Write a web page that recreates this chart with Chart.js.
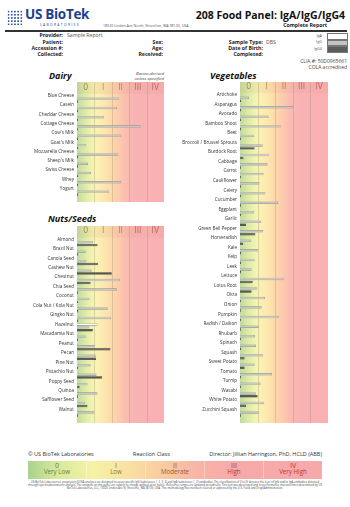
<!DOCTYPE html>
<html>
<head>
<meta charset="utf-8">
<script src="https://cdn.jsdelivr.net/npm/chart.js@4/dist/chart.umd.min.js"></script>
<style>
body { margin: 0; width: 350px; height: 507px; position: relative; overflow: hidden; background: #fff; font-family: "Open Sans", Arial, sans-serif; color: #222; }
.t { position: absolute; white-space: nowrap; line-height: 1; }
.b { font-weight: bold; }
canvas { position: absolute; }
.sec { font-weight: bold; font-style: italic; font-size: 9px; color: #111; }
.lbl { font-size: 5.2px; font-weight: bold; text-align: right; }
.val { font-size: 5.2px; color: #555; }
.box { position: absolute; left: 327px; width: 19px; height: 4.5px; border: 0.6px solid #777; }
#band { position: absolute; left: 28px; top: 460.5px; width: 294px; height: 18px; display: flex;
  background: linear-gradient(90deg, #a9d28d 0%, #d9e99c 10%, #f6f2a6 22%, #f9e0a2 34%, #f9cba0 46%, #f8b4a6 58%, #f7a9a9 70%, #f8a8aa 100%); }
#band div { flex: 1; text-align: center; font-size: 6.2px; line-height: 6.6px; padding-top: 2.4px; border-left: 0.6px solid rgba(255,255,255,0.35); }
#band div:first-child { border-left: none; }
</style>
</head>
<body>

<!-- header -->
<div class="t" style="left:7px;top:10px;width:16px;height:15px;background:radial-gradient(circle,#2b55a8 0.9px,transparent 1.25px);background-size:3.2px 3.2px;"></div>
<div class="t b" style="left:25px;top:8px;font-size:13.5px;color:#1d3f8f;letter-spacing:-0.3px;">US BioTek</div>
<div class="t" style="left:40px;top:22.5px;font-size:3.4px;color:#1d3f8f;letter-spacing:1.3px;">LABORATORIES</div>
<div class="t" style="left:103px;top:23.5px;font-size:3.6px;color:#555;">18020 Linden Ave North, Shoreline, WA 98133, USA</div>
<div class="t b" style="right:5px;top:10px;font-size:10.5px;color:#111;">208 Food Panel: IgA/IgG/IgG4</div>
<div class="t b" style="right:23px;top:22.5px;font-size:5.2px;">Complete Report</div>
<div class="t" style="left:5px;top:30.3px;width:342px;height:1.4px;background:#333;"></div>

<div class="t lbl" style="right:287px;top:33px;">Provider:</div>
<div class="t val" style="left:67px;top:33px;">Sample Report</div>
<div class="t lbl" style="right:287px;top:39.6px;">Patient:</div>
<div class="t lbl" style="right:287px;top:45.6px;">Accession #:</div>
<div class="t lbl" style="right:287px;top:51.6px;">Collected:</div>
<div class="t lbl" style="right:187px;top:39.6px;">Sex:</div>
<div class="t lbl" style="right:187px;top:45.6px;">Age:</div>
<div class="t lbl" style="right:187px;top:51.6px;">Received:</div>
<div class="t lbl" style="right:87px;top:39.6px;">Sample Type:</div>
<div class="t val" style="left:266px;top:39.6px;">DBS</div>
<div class="t lbl" style="right:87px;top:45.6px;">Date of Birth:</div>
<div class="t lbl" style="right:87px;top:51.6px;">Completed:</div>

<div class="t" style="right:28px;top:33.6px;font-size:3.8px;color:#555;">IgA</div>
<div class="t" style="right:28px;top:40.2px;font-size:3.8px;color:#555;">IgG</div>
<div class="t" style="right:28px;top:46.8px;font-size:3.8px;color:#555;">IgG4</div>
<div class="box" style="top:33px;background:#fff;"></div>
<div class="box" style="top:39.6px;background:#c4c4c4;"></div>
<div class="box" style="top:46.2px;background:#5c5c5c;"></div>

<div class="t" style="right:3px;top:58.6px;font-size:5px;color:#444;">CLIA #: 50D0965661</div>
<div class="t" style="right:3px;top:64.8px;font-size:5px;color:#444;">COLA accredited</div>

<!-- sections -->
<div class="t sec" style="left:49px;top:71px;">Dairy</div>
<div class="t" style="right:186px;top:71px;font-size:4.3px;font-style:italic;color:#444;">Bovine-derived</div>
<div class="t" style="right:186px;top:76px;font-size:4.3px;font-style:italic;color:#444;">unless specified</div>
<div class="t sec" style="left:210px;top:71px;">Vegetables</div>
<div class="t sec" style="left:48px;top:213.5px;">Nuts/Seeds</div>

<canvas id="dairy" width="164" height="120" style="left:0;top:82px;width:164px;height:120px;"></canvas>
<canvas id="nuts" width="164" height="197" style="left:0;top:226px;width:164px;height:197px;"></canvas>
<canvas id="veg" width="148" height="341" style="left:180px;top:82px;width:148px;height:341px;"></canvas>

<!-- footer -->
<div class="t" style="left:28px;top:451.5px;font-size:5.5px;color:#333;">© US BioTek Laboratories</div>
<div class="t" style="left:133px;top:451.5px;font-size:5.5px;color:#333;">Reaction Class</div>
<div class="t" style="right:28px;top:451.5px;font-size:5.5px;color:#333;">Director: Jillian Harrington, PhD, HCLD (ABB)</div>
<div id="band"></div>
<div class="t" style="left:28px;top:480.5px;width:294px;white-space:normal;text-align:center;font-size:2.75px;line-height:3.4px;color:#444;">US BioTek Laboratories' proprietary ELISA analyses are designed to assay specific IgG (subclasses 1, 2, 3, 4) and IgA (subclasses 1, 2) antibodies. The classification of 0 to IV denotes the level of IgG and/or IgA antibodies detected through spectrophotometric analysis. The antigens on this panel are subject to change without prior notice. Reference ranges are updated periodically. This test was developed and its performance characteristics determined by US BioTek Laboratories, LLC, 16020 Linden Ave N, Shoreline, WA 98133, USA. This methodology has not been cleared or approved by the U.S. Food and Drug Administration.</div>

<script>
// reaction classes
const classes = ['0', 'I', 'II', 'III', 'IV'];
const classNames = ['Very Low', 'Low', 'Moderate', 'High', 'Very High'];

// dairy
const dairyFoods = ['Blue Cheese', 'Casein', 'Cheddar Cheese', 'Cottage Cheese', "Cow's Milk", "Goat's Milk",
    'Mozzarella Cheese', "Sheep's Milk", 'Swiss Cheese', 'Whey', 'Yogurt'];
const dairyIgA = [0, 0, 0, 0, 0, 0, 0, 0, 0, 0, 0];
const dairyIgG = [2.43, 2.3, 1.54, 3.66, 2.55, 0.53, 2.38, 0.63, 0.8, 2.55, 1.85];
const dairyIgG4 = [0.06, 0.06, 0.06, 0.06, 0.06, 0.06, 0.06, 0.06, 0.06, 0.06, 0.06];

// nuts / seeds
const nutsFoods = ['Almond', 'Brazil Nut', 'Canola Seed', 'Cashew Nut', 'Chestnut', 'Chia Seed', 'Coconut',
    'Cola Nut / Kola Nut', 'Gingko Nut', 'Hazelnut', 'Macadamia Nut', 'Peanut', 'Pecan', 'Pine Nut',
    'Pistachio Nut', 'Poppy Seed', 'Quinoa', 'Safflower Seed', 'Walnut'];
const nutsIgA = [0, 0, 0, 0, 0, 0, 0, 0, 0, 1.18, 0, 0, 0, 0, 0, 0, 0, 0, 0];
const nutsIgG = [0.91, 0.5, 0.53, 0.85, 2.46, 2.3, 0.72, 1.77, 1.96, 0.7, 0.5, 1.02, 1.1, 0.78, 1.12, 0.6, 1.18, 0.47, 1.0];
const nutsIgG4 = [1.18, 0.06, 1.2, 2.0, 0.78, 0.06, 0.06, 0.06, 0.06, 0.91, 0.06, 1.92, 1.1, 0.06, 1.45, 0.15, 0.06, 0.6, 0.06];

// vegetables
const vegFoods = ['Artichoke', 'Asparagus', 'Avocado', 'Bamboo Shoot', 'Beet', 'Broccoli / Brussel Sprouts',
    'Burdock Root', 'Cabbage', 'Carrot', 'Cauliflower', 'Celery', 'Cucumber', 'Eggplant', 'Garlic',
    'Green Bell Pepper', 'Horseradish', 'Kale', 'Kelp', 'Leek', 'Lettuce', 'Lotus Root', 'Okra', 'Onion',
    'Pumpkin', 'Radish / Daikon', 'Rhubarb', 'Spinach', 'Squash', 'Sweet Potato', 'Tomato', 'Turnip',
    'Wasabi', 'White Potato', 'Zucchini Squash'];
const vegIgA = vegFoods.map(() => 0);
const vegIgG = [0.51, 3.03, 1.63, 2.31, 0.81, 1.29, 1.66, 1.57, 1.34, 1.11, 1.44, 2.16, 0.81, 1.19, 1.32, 0.64,
    1.04, 0.83, 0.66, 2.48, 0.98, 1.42, 1.23, 2.23, 1.06, 0.85, 0.91, 1.32, 0.83, 1.82, 1.17, 0.9, 1.38, 1.06];
const vegIgG4 = [0.06, 0.06, 0.06, 0.06, 0.06, 0.83, 0.2, 0.06, 0.06, 0.06, 0.06, 0.06, 0.06, 0.34, 0.87, 0.17,
    0.06, 0.06, 0.06, 0.72, 0.66, 0.06, 0.06, 0.06, 0.06, 0.06, 0.06, 0.26, 0.26, 0.06, 0.06, 1.0, 0.34, 0.06];

const classColors = ['#849456', '#a6954c', '#bb7b55', '#bf6464', '#bf6464'];
const bandText = ['#687d38', '#8a7a2c', '#9a5a30', '#b0383a', '#b0383a'];

// footer legend band
const band = document.getElementById('band');
classes.forEach((c, i) => {
    const d = document.createElement('div');
    d.style.color = bandText[i];
    d.innerHTML = '<span style="font-size:7px">' + c + '</span><br>' + classNames[i];
    band.appendChild(d);
});

// coloured class zones behind the bars
const zones = {
    id: 'zones',
    beforeDraw(chart, args, opts) {
        const { ctx, chartArea, scales: { x } } = chart;
        const left = x.getPixelForValue(0), right = x.getPixelForValue(5);
        const top = chartArea.top - opts.header, bottom = chart.height;
        ctx.save();
        let g = ctx.createLinearGradient(left, 0, right, 0);
        g.addColorStop(0, '#c0dc9c');
        g.addColorStop(0.1, '#e0eba8');
        g.addColorStop(0.2, '#f8f5b3');
        g.addColorStop(0.32, '#fde6ae');
        g.addColorStop(0.44, '#fdd2aa');
        g.addColorStop(0.56, '#fbbdb1');
        g.addColorStop(0.66, '#f9b3b4');
        g.addColorStop(1, '#f9b0b3');
        ctx.fillStyle = g;
        ctx.fillRect(left, top, right - left, bottom - top);
        // header strip a little stronger
        ctx.fillStyle = 'rgba(215,150,120,0.13)';
        ctx.fillRect(left, top, right - left, opts.header);
        ctx.strokeStyle = 'rgba(165,140,110,0.35)';
        ctx.lineWidth = 1;
        for (let k = 1; k < 5; k++) {
            const px = Math.round(x.getPixelForValue(k)) + 0.5;
            ctx.beginPath();
            ctx.moveTo(px, top);
            ctx.lineTo(px, bottom);
            ctx.stroke();
        }
        ctx.restore();
    }
};

function foodChart(id, foods, iga, igg, igg4, yWidth, header, extra) {
    new Chart(document.getElementById(id), {
        type: 'bar',
        data: {
            labels: foods,
            datasets: [
                { label: 'IgA', data: iga, backgroundColor: '#ffffff', borderColor: '#8c8c8c', borderWidth: 0.6 },
                { label: 'IgG', data: igg, backgroundColor: '#c6c6c6', borderColor: '#8e8e8e', borderWidth: 0.6 },
                { label: 'IgG4', data: igg4, backgroundColor: '#575757', borderColor: '#3a3a3a', borderWidth: 0.6 }
            ]
        },
        options: {
            indexAxis: 'y',
            responsive: false,
            animation: false,
            devicePixelRatio: 1,
            categoryPercentage: 0.92,
            barPercentage: 0.85,
            layout: { padding: { top: 0, right: 0, left: 0, bottom: extra } },
            plugins: { legend: { display: false }, tooltip: { enabled: false }, zones: { header: header } },
            scales: {
                x: {
                    position: 'top', min: 0, max: 5,
                    afterBuildTicks: s => { s.ticks = classes.map((c, i) => ({ value: i + 0.5 })); },
                    afterFit: s => { s.height = header; },
                    ticks: {
                        autoSkip: false, maxRotation: 0, padding: 1.5,
                        callback: (v, i) => classes[i],
                        color: c => classColors[c.index],
                        font: { family: 'Open Sans', size: 8.5 }
                    },
                    grid: { display: false, drawTicks: false },
                    border: { display: false }
                },
                y: {
                    afterFit: s => { s.width = yWidth; },
                    ticks: {
                        autoSkip: false, padding: 3, labelOffset: -2.9, color: '#333',
                        font: { family: 'Open Sans', size: 4.6 }
                    },
                    grid: { display: false, drawTicks: false },
                    border: { display: false }
                }
            }
        },
        plugins: [zones]
    });
}

foodChart('dairy', dairyFoods, dairyIgA, dairyIgG, dairyIgG4, 77, 12, 2);
foodChart('nuts', nutsFoods, nutsIgA, nutsIgG, nutsIgG4, 77, 11.5, 3);
foodChart('veg', vegFoods, vegIgA, vegIgG, vegIgG4, 60, 11, 5);
</script>
</body>
</html>
